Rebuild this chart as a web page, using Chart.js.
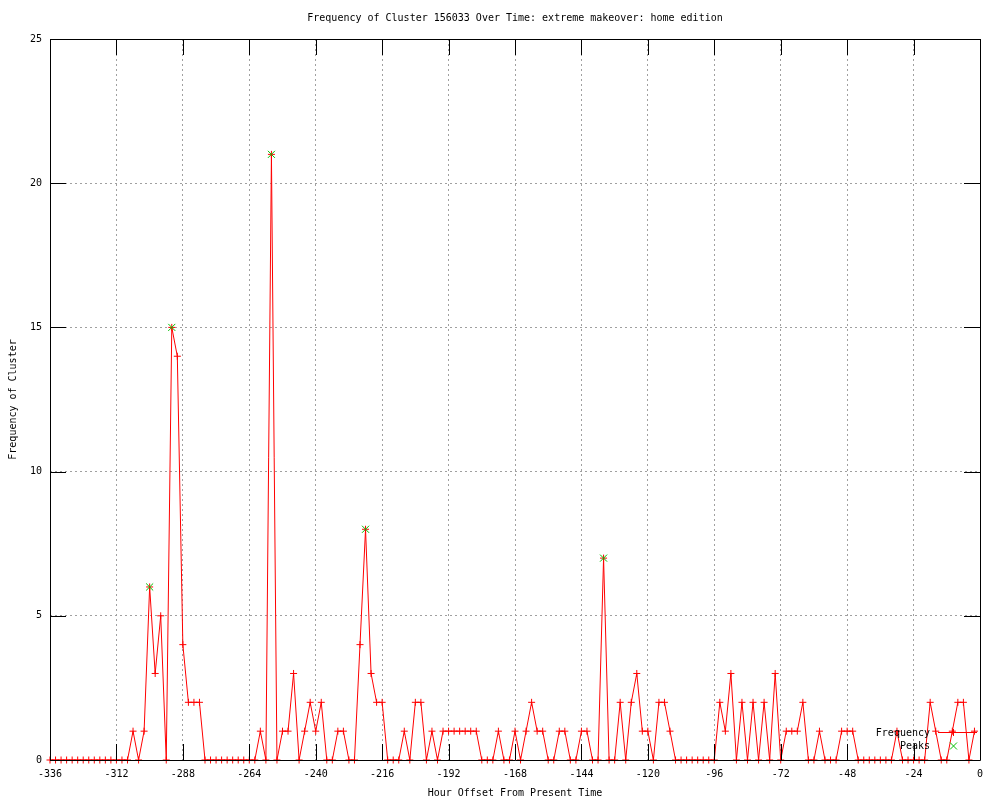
<!DOCTYPE html>
<html>
<head>
<meta charset="utf-8">
<script src="https://cdn.jsdelivr.net/npm/chart.js@4/dist/chart.umd.min.js"></script>
<style>
html,body{margin:0;padding:0;background:#fff;}
canvas{display:block;}
</style>
</head>
<body>
<canvas id="c" width="1000" height="800" style="width:1000px;height:800px"></canvas>
<script>
const hours = [
-336,-334,-332,-330,-328,-326,-324,-322,-320,-318,
-316,-314,-312,-310,-308,-306,-304,-302,-300,-298,
-296,-294,-292,-290,-288,-286,-284,-282,-280,-278,
-276,-274,-272,-270,-268,-266,-264,-262,-260,-258,
-256,-254,-252,-250,-248,-246,-244,-242,-240,-238,
-236,-234,-232,-230,-228,-226,-224,-222,-220,-218,
-216,-214,-212,-210,-208,-206,-204,-202,-200,-198,
-196,-194,-192,-190,-188,-186,-184,-182,-180,-178,
-176,-174,-172,-170,-168,-166,-164,-162,-160,-158,
-156,-154,-152,-150,-148,-146,-144,-142,-140,-138,
-136,-134,-132,-130,-128,-126,-124,-122,-120,-118,
-116,-114,-112,-110,-108,-106,-104,-102,-100,-98,
-96,-94,-92,-90,-88,-86,-84,-82,-80,-78,
-76,-74,-72,-70,-68,-66,-64,-62,-60,-58,
-56,-54,-52,-50,-48,-46,-44,-42,-40,-38,
-36,-34,-32,-30,-28,-26,-24,-22,-20,-18,
-16,-14,-12,-10,-8,-6,-4,-2
];
const frequency = [
0,0,0,0,0,0,0,0,0,0,
0,0,0,0,0,1,0,1,6,3,
5,0,15,14,4,2,2,2,0,0,
0,0,0,0,0,0,0,0,1,0,
21,0,1,1,3,0,1,2,1,2,
0,0,1,1,0,0,4,8,3,2,
2,0,0,0,1,0,2,2,0,1,
0,1,1,1,1,1,1,1,0,0,
0,1,0,0,1,0,1,2,1,1,
0,0,1,1,0,0,1,1,0,0,
7,0,0,2,0,2,3,1,1,0,
2,2,1,0,0,0,0,0,0,0,
0,2,1,3,0,2,0,2,0,2,
0,3,0,1,1,1,2,0,0,1,
0,0,0,1,1,1,0,0,0,0,
0,0,0,1,0,0,0,0,0,2,
1,0,0,1,2,2,0,1
];
const peakHours = [-300,-292,-256,-222,-136];
const peakValues = [6,15,21,8,7];
const xTicks = [-336,-312,-288,-264,-240,-216,-192,-168,-144,-120,-96,-72,-48,-24,0];
const yTicks = [0,5,10,15,20,25];

const titleText = "Frequency of Cluster 156033 Over Time: extreme makeover: home edition";
const xTitle = "Hour Offset From Present Time";
const yTitle = "Frequency of Cluster";
const seriesNames = ["Frequency","Peaks"];

const FONT = '"DejaVu Sans Mono", monospace';
const RED = '#ff0000';
const GREEN = '#00c000';

const decor = {
  id: 'decor',
  afterDraw(chart) {
    const ctx = chart.ctx;
    const a = chart.chartArea;
    const xs = chart.scales.x, ys = chart.scales.y;
    ctx.save();
    // frame
    ctx.strokeStyle = '#000';
    ctx.lineWidth = 1;
    ctx.beginPath();
    ctx.rect(Math.round(a.left)+0.5, Math.round(a.top)+0.5, Math.round(a.right-a.left), Math.round(a.bottom-a.top));
    ctx.stroke();
    // tick marks (inward, mirrored)
    const TL = 16;
    ctx.beginPath();
    xTicks.forEach(v => {
      const px = Math.round(xs.getPixelForValue(v)) + 0.5;
      ctx.moveTo(px, a.bottom); ctx.lineTo(px, a.bottom - TL);
      ctx.moveTo(px, a.top); ctx.lineTo(px, a.top + TL);
    });
    yTicks.forEach(v => {
      const py = Math.round(ys.getPixelForValue(v)) + 0.5;
      ctx.moveTo(a.left, py); ctx.lineTo(a.left + TL, py);
      ctx.moveTo(a.right, py); ctx.lineTo(a.right - TL, py);
    });
    ctx.stroke();
    // texts
    ctx.fillStyle = '#000';
    ctx.font = '10px ' + FONT;
    ctx.textBaseline = 'middle';
    ctx.textAlign = 'center';
    const cx = (a.left + a.right) / 2;
    ctx.fillText(titleText, cx, 18);
    ctx.fillText(xTitle, cx, 793);
    ctx.save();
    ctx.translate(13, (a.top + a.bottom) / 2);
    ctx.rotate(-Math.PI / 2);
    ctx.fillText(yTitle, 0, 0);
    ctx.restore();
    // legend
    ctx.textAlign = 'right';
    ctx.fillText(seriesNames[0], 930, 733);
    ctx.fillText(seriesNames[1], 930, 746);
    ctx.strokeStyle = RED;
    ctx.beginPath();
    ctx.moveTo(938, 732.5); ctx.lineTo(977, 732.5);
    ctx.moveTo(949.5, 732.5); ctx.lineTo(957.5, 732.5);
    ctx.moveTo(953.5, 729); ctx.lineTo(953.5, 736);
    ctx.stroke();
    ctx.strokeStyle = GREEN;
    ctx.beginPath();
    ctx.moveTo(950, 742.5); ctx.lineTo(957, 749.5);
    ctx.moveTo(957, 742.5); ctx.lineTo(950, 749.5);
    ctx.stroke();
    ctx.restore();
  }
};

new Chart(document.getElementById('c'), {
  type: 'line',
  data: {
    datasets: [
      {
        label: seriesNames[1],
        data: peakHours.map((h, i) => ({x: h, y: peakValues[i]})),
        showLine: false,
        pointStyle: 'crossRot',
        pointRadius: 5,
        pointBorderColor: GREEN,
        pointBackgroundColor: GREEN,
        pointBorderWidth: 1,
        borderColor: GREEN,
        order: 0,
        clip: false
      },
      {
        label: seriesNames[0],
        data: hours.map((h, i) => ({x: h, y: frequency[i]})),
        borderColor: RED,
        borderWidth: 1,
        tension: 0,
        pointStyle: 'cross',
        pointRadius: 3.5,
        pointBorderColor: RED,
        pointBorderWidth: 1,
        fill: false,
        order: 1,
        clip: false
      }
    ]
  },
  options: {
    responsive: false,
    animation: false,
    events: [],
    layout: { padding: { top: 39, right: 20, left: 0, bottom: 0 } },
    plugins: { legend: { display: false }, tooltip: { enabled: false }, title: { display: false } },
    scales: {
      x: {
        type: 'linear',
        min: -336, max: 0,
        afterFit(s) { s.height = 40; },
        afterBuildTicks(s) { s.ticks = xTicks.map(v => ({value: v})); },
        ticks: { color: '#000', font: { family: FONT, size: 10 }, padding: 8, maxRotation: 0, autoSkip: false, callback: v => String(v) },
        grid: { color: '#a0a0a0', lineWidth: 1, drawTicks: false },
        border: { display: false, dash: [2, 3] }
      },
      y: {
        type: 'linear',
        min: 0, max: 25,
        afterFit(s) { s.width = 50; },
        afterBuildTicks(s) { s.ticks = yTicks.map(v => ({value: v})); },
        ticks: { color: '#000', font: { family: FONT, size: 10 }, padding: 8, callback: v => String(v) },
        grid: { color: '#a0a0a0', lineWidth: 1, drawTicks: false },
        border: { display: false, dash: [2, 3] }
      }
    }
  },
  plugins: [decor]
});
</script>
</body>
</html>
